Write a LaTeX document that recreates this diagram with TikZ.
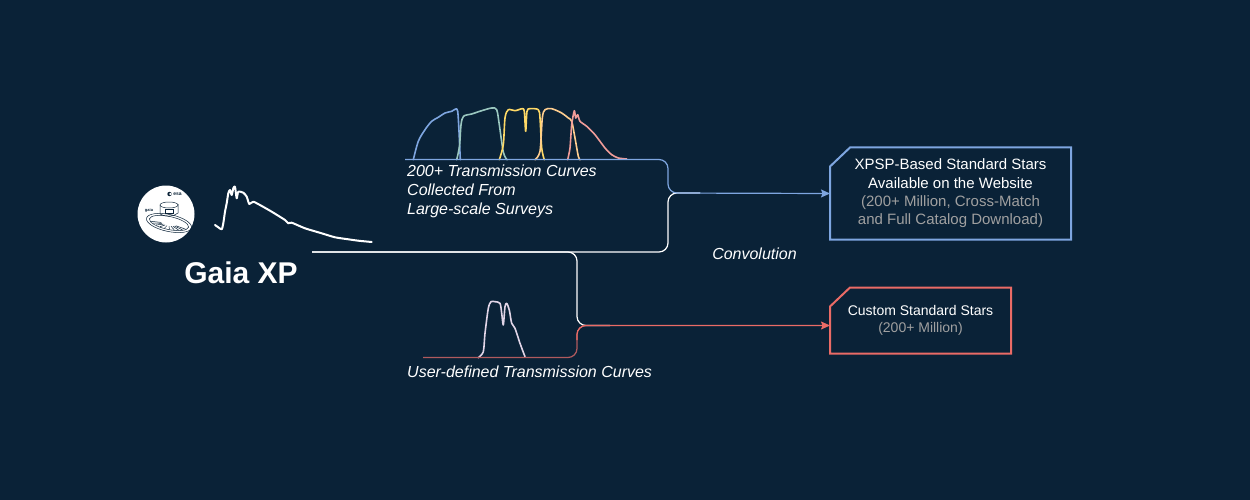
\documentclass[tikz,border=0pt]{standalone}
\usepackage{fontspec}
\setmainfont{Liberation Sans}
\usetikzlibrary{arrows.meta,calc}
\definecolor{bg}{HTML}{0A2237}
\definecolor{cblue}{HTML}{7EA6E0}
\definecolor{cred}{HTML}{EA6B66}
\definecolor{cteal}{HTML}{9AC7BF}
\definecolor{cyellow}{HTML}{FFD966}
\definecolor{cpeach}{HTML}{FFCE8F}
\definecolor{csalmon}{HTML}{F19C99}
\definecolor{clav}{HTML}{E1D5E7}
\definecolor{cgray}{HTML}{A0A0A0}
\definecolor{cdred}{HTML}{B05A5E}
\tikzset{
  wire/.style={draw=white, line width=1.2pt, rounded corners=9pt},
  bluewire/.style={draw=cblue, line width=1.2pt, rounded corners=9pt},
  redwire/.style={draw=cred, line width=1.2pt, rounded corners=9pt},
  tip/.style={-{Stealth[length=9pt,width=8pt,inset=1.5pt]}},
  filt/.style={line width=1.6pt, line join=round, line cap=round},
  cardbox/.style={minimum width=#1, inner sep=0pt, outer sep=0pt, align=center, text=white},
  italab/.style={text=white, inner sep=0pt, font=\fontsize{16}{19}\selectfont\itshape},
}
\begin{document}
\begin{tikzpicture}[x=1pt,y=-1pt]
\useasboundingbox (0,0) rectangle (1250,500);
\fill[bg] (0,0) rectangle (1250,500);

% ---- Gaia logo
\node[circle, fill=white, minimum size=57pt, inner sep=0pt] (logo) at (166,214) {};
\fill[bg] (169.5,194) circle (2.2pt);
\fill[white] (170.3,194) circle (1.2pt);
\node[text=bg, inner sep=0pt, font=\fontsize{5}{5}\selectfont\bfseries] (esa) at (177.5,194) {esa};
\node[text=bg, inner sep=0pt, font=\fontsize{4}{4}\selectfont\bfseries] (gaialbl) at (149,210.5) {gaia};
\begin{scope}[draw=bg, line width=0.5pt]
  \draw[rotate around={-12:(169,223)}] (169,223) ellipse (23pt and 8.5pt);
  \draw[rotate around={-12:(169,223)}] (169,223) ellipse (20pt and 6.5pt);
  \draw (160,205) -- (160,214) .. controls (164,217) and (174,217) .. (178,213) -- (178,204);
  \draw (169,205) ellipse (9pt and 3pt);
  \draw (165,209) rectangle (173,213);
  \foreach \a in {200,215,230,245,260,275,290,305,320,335}{
    \draw[rotate around={-12:(169,223)}] ($(169,223)+(\a:8pt and 3pt)$) -- ($(169,223)+(\a:19pt and 6pt)$);
  }
\end{scope}

% ---- Gaia XP spectrum
\draw[white, line width=2pt, line join=round, line cap=round] plot[smooth, tension=0.4] coordinates {
(215,225) (218.3,227.3) (221.7,229.3) (223.3,223.3) (225,211.7) (226.7,203.3) (228.3,193.3) (230,190)
(231.7,195) (233.3,188.3) (235,186.7) (236.7,198.3) (238.3,191.7) (243.3,192.7) (246.7,196.7) (249.3,204)
(253.3,201.7) (261.7,206) (271.7,211.7) (285,220) (288.3,223.3) (291.7,222.7) (305,228.3) (321.7,233.3)
(335,237.3) (348.3,239.3) (358.3,240.7) (371.7,242)};

\node[text=white, inner sep=0pt, font=\fontsize{30}{30}\selectfont\bfseries] (gaia) at (241,273) {Gaia XP};

% ---- filter curves
\draw[filt, cblue] plot[smooth, tension=0.5] coordinates {(413.3,159.7) (418.3,141.3) (425,129.7) (431.7,121.3) (438.3,117.3) (445,113) (451.7,111.3) (455.7,109) (457.7,111.3) (459,131.3) (460.3,159.7)};
\draw[filt, cteal] plot[smooth, tension=0.5] coordinates {(456.7,159.7) (459.5,146) (461,125) (463.5,116.3) (471.7,114) (481.7,110.7) (491.7,108) (496.7,109.7) (499.3,124.7) (503.3,152) (507,159.7)};
\draw[filt, cyellow] plot[smooth, tension=0.5] coordinates {(499.3,159.7) (503.3,144.7) (505,118) (508.3,109.7) (515,110.7) (522.3,108.7) (524.3,111.3) (525.7,131.3) (527,111.3) (530,108.7) (538.3,109.7) (540,118) (541.7,148) (544.3,159.7)};
\draw[filt, cpeach] plot[smooth, tension=0.5] coordinates {(535,159.7) (540,151.3) (542.3,118) (545,109.7) (551.7,108.7) (561.7,113) (568.3,118) (571.7,121.3) (575,138) (578.3,156.3) (580,159.7)};
\draw[filt, csalmon] plot[smooth, tension=0.4] coordinates {(567.7,159.7) (570,148) (571.7,124.7) (574.3,110.7) (575.7,118) (577.7,114.7) (580,121.3) (586.7,126.3) (595,134.7) (605,148) (611.7,154.7) (618.3,158) (626.7,159)};

% ---- user-defined curve
\draw[filt, clav] plot[smooth, tension=0.45] coordinates {(478.3,357.7) (483.3,351.7) (485,333.3) (488.3,308.3) (491,301.7) (495,301.7) (500,303.3) (501.7,313.3) (503.3,325) (505,306.7) (506.7,303.3) (509.3,310) (511.7,323.3) (515,328.3) (520,343.3) (525,356.7)};

% ---- text labels
\node[italab, anchor=north west, align=left] (tclbl) at (407,164.5) {200+ Transmission Curves\\Collected From\\Large-scale Surveys};
\node[italab, anchor=west] (uclbl) at (407,372) {User-defined Transmission Curves};
\node[italab] (conv) at (754.5,254) {Convolution};

% ---- output boxes
\node[cardbox=241pt, minimum height=92pt, font=\fontsize{15}{18.4}\selectfont] (box1) at (950.5,193.5)
  {XPSP-Based Standard Stars\\Available on the Website\\\textcolor{cgray}{(200+ Million, Cross-Match}\\\textcolor{cgray}{and Full Catalog Download)}};
\draw[cblue, line width=2pt, line join=miter] ([xshift=20pt]box1.north west) -- (box1.north east) -- (box1.south east) -- (box1.south west) -- ([yshift=-19pt]box1.north west) -- cycle;

\node[cardbox=181pt, minimum height=66pt, font=\fontsize{14}{17}\selectfont] (box2) at (920.5,320.5)
  {Custom Standard Stars\\\textcolor{cgray}{(200+ Million)}};
\draw[cred, line width=2pt, line join=miter] ([xshift=20pt]box2.north west) -- (box2.north east) -- (box2.south east) -- (box2.south west) -- ([yshift=-19pt]box2.north west) -- cycle;

% ---- connectors
\coordinate (gaiaout) at (312,252);
\coordinate (tcstart) at (405,159.5);
\coordinate (ucstart) at (423,357.5);
\coordinate (j1) at (700,193);
\coordinate (j2) at (610,325.5);
\coordinate (in2) at (830,325.5);

\draw[wire] (gaiaout) -- (668,252) -- (668,193) -- (j1);
\draw[wire] (gaiaout) -- (577,252) -- (577,325.5) -- (j2);
\draw[bluewire, tip] (tcstart) -- (668,159.5) -- (668,193) -- (box1.west);
\draw[draw=cdred, line width=1.2pt, rounded corners=9pt] (ucstart) -- (577,357.5) -- (577,325.5) -- (j2);
\draw[redwire, tip] (577,340) -- (577,325.5) -- (in2);
\end{tikzpicture}
\end{document}
